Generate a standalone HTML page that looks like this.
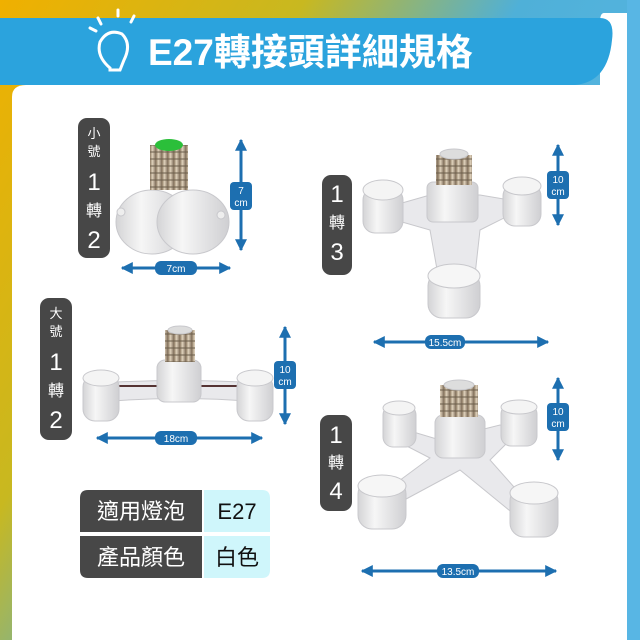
<!DOCTYPE html>
<html><head><meta charset="utf-8"><style>
html,body{margin:0;padding:0;width:640px;height:640px;overflow:hidden}
text{font-family:"Liberation Sans","Noto Sans CJK TC",sans-serif}
</style></head><body>
<svg width="640" height="640" viewBox="0 0 640 640" xmlns="http://www.w3.org/2000/svg">
<defs>
<linearGradient id="bg" x1="0" y1="0" x2="1" y2="0.6">
<stop offset="0" stop-color="#f0b000"/><stop offset="0.35" stop-color="#c8b820"/><stop offset="0.6" stop-color="#4fb0d8"/><stop offset="1" stop-color="#5ab8e6"/></linearGradient>
<linearGradient id="cyl" x1="0" y1="0" x2="1" y2="0">
<stop offset="0" stop-color="#d4d4d6"/><stop offset="0.35" stop-color="#f6f6f6"/><stop offset="1" stop-color="#cfcfd2"/></linearGradient>
<linearGradient id="scr" x1="0" y1="0" x2="1" y2="0">
<stop offset="0" stop-color="#8c7a62"/><stop offset="0.4" stop-color="#e0d2bc"/><stop offset="1" stop-color="#7d6c58"/></linearGradient>
<pattern id="thr" width="6" height="7" patternUnits="userSpaceOnUse"><rect width="6" height="7" fill="url(#scr)"/><rect y="4" width="6" height="2" fill="#6b5d4c" opacity=".5"/></pattern>
<marker id="ah" viewBox="0 0 10 10" refX="9" refY="5" markerWidth="4" markerHeight="4" orient="auto-start-reverse"><path d="M0,0 L10,5 L0,10z" fill="#1d6fb0"/></marker>
</defs>
<rect width="640" height="640" fill="url(#bg)"/>
<rect x="627" y="0" width="13" height="640" fill="#58b6e4"/>
<path d="M12,97 Q12,85 26,85 H627 V640 H12z" fill="#fff"/>
<path d="M604,13 H627 V90 H600 V22 Q600,13 604,13z" fill="#fff"/>
<path d="M0,18 H600 Q615,18 612,40 Q608,82 575,85 H0z" fill="#2ba3dd"/>
<g stroke="#fff" stroke-width="3" fill="none" stroke-linecap="round">
<path d="M110,68 Q96,56 100,42 Q108,28 122,34 Q132,44 124,60 L120,70 H110z"/>
<path d="M98,18 L101,24 M118,10 V16 M134,16 L131,22 M90,28 L96,31"/>
</g>
<text x="148" y="65" fill="#fff" font-size="37" font-weight="bold">E27轉接頭詳細規格</text>

<g fill="#474747">
<rect x="78" y="118" width="32" height="140" rx="9"/>
<rect x="322" y="175" width="30" height="100" rx="9"/>
<rect x="40" y="298" width="32" height="142" rx="9"/>
<rect x="320" y="415" width="32" height="96" rx="9"/>
</g>
<g fill="#fff" text-anchor="middle">
<text x="94" y="138" font-size="13">小</text><text x="94" y="156" font-size="13">號</text>
<text x="94" y="190" font-size="24">1</text><text x="94" y="216" font-size="16">轉</text><text x="94" y="248" font-size="24">2</text>
<text x="337" y="202" font-size="24">1</text><text x="337" y="228" font-size="16">轉</text><text x="337" y="260" font-size="24">3</text>
<text x="56" y="318" font-size="13">大</text><text x="56" y="336" font-size="13">號</text>
<text x="56" y="370" font-size="24">1</text><text x="56" y="396" font-size="16">轉</text><text x="56" y="428" font-size="24">2</text>
<text x="336" y="443" font-size="24">1</text><text x="336" y="468" font-size="16">轉</text><text x="336" y="499" font-size="24">4</text>
</g>

<g stroke="#c8c8cc" stroke-width="1">
<ellipse cx="152" cy="222" rx="36" ry="32" fill="url(#cyl)"/>
<ellipse cx="193" cy="222" rx="36" ry="32" fill="url(#cyl)"/>
<rect x="150" y="145" width="38" height="45" fill="url(#thr)" stroke="none"/>
<ellipse cx="169" cy="145" rx="14" ry="6" fill="#2bbf3a" stroke="none"/>
<circle cx="121" cy="212" r="4" fill="#eee"/><circle cx="221" cy="215" r="4" fill="#eee"/>
</g>
<g stroke="#c8c8cc" stroke-width="1">
<path d="M395,205 L430,195 L480,195 L510,200 L510,215 L480,230 L475,275 L438,275 L430,230 L395,220z" fill="#e9e9ec"/>
<rect x="363" y="188" width="40" height="45" rx="12" fill="url(#cyl)"/><ellipse cx="383" cy="190" rx="20" ry="10" fill="#f4f4f4"/>
<rect x="503" y="184" width="38" height="42" rx="12" fill="url(#cyl)"/><ellipse cx="522" cy="186" rx="19" ry="9" fill="#f4f4f4"/>
<rect x="428" y="272" width="52" height="46" rx="14" fill="url(#cyl)"/><ellipse cx="454" cy="276" rx="26" ry="12" fill="#f6f6f6"/>
<rect x="427" y="182" width="51" height="40" rx="6" fill="url(#cyl)"/>
<rect x="436" y="155" width="36" height="30" fill="url(#thr)" stroke="none"/>
<ellipse cx="454" cy="154" rx="14" ry="5" fill="#ddd"/>
</g>
<g stroke="#c8c8cc" stroke-width="1">
<path d="M100,383 Q180,378 258,383 L258,402 Q180,395 100,402z" fill="#e9e9ec"/>
<line x1="118" y1="386" x2="240" y2="386" stroke="#553333" stroke-width="2"/>
<rect x="83" y="375" width="36" height="46" rx="12" fill="url(#cyl)"/><ellipse cx="101" cy="378" rx="18" ry="8" fill="#f4f4f4"/>
<rect x="237" y="375" width="36" height="46" rx="12" fill="url(#cyl)"/><ellipse cx="255" cy="378" rx="18" ry="8" fill="#f4f4f4"/>
<rect x="157" y="360" width="44" height="42" rx="8" fill="url(#cyl)"/>
<rect x="165" y="330" width="30" height="32" fill="url(#thr)" stroke="none"/>
<ellipse cx="180" cy="330" rx="12" ry="4" fill="#ddd"/>
</g>
<g stroke="#c8c8cc" stroke-width="1">
<path d="M400,428 L440,440 L500,425 L520,430 L490,460 L530,505 L515,515 L460,470 L395,505 L380,495 L430,458 L395,440z" fill="#e9e9ec"/>
<rect x="383" y="405" width="33" height="42" rx="10" fill="url(#cyl)"/><ellipse cx="399" cy="408" rx="16" ry="7" fill="#f4f4f4"/>
<rect x="501" y="404" width="36" height="42" rx="10" fill="url(#cyl)"/><ellipse cx="519" cy="407" rx="18" ry="7" fill="#f4f4f4"/>
<rect x="358" y="480" width="48" height="49" rx="14" fill="url(#cyl)"/><ellipse cx="382" cy="486" rx="24" ry="11" fill="#f6f6f6"/>
<rect x="510" y="487" width="48" height="50" rx="14" fill="url(#cyl)"/><ellipse cx="534" cy="493" rx="24" ry="11" fill="#f6f6f6"/>
<rect x="435" y="415" width="50" height="43" rx="8" fill="url(#cyl)"/>
<rect x="440" y="385" width="38" height="32" fill="url(#thr)" stroke="none"/>
<ellipse cx="459" cy="385" rx="15" ry="5" fill="#ddd"/>
</g>

<g stroke="#1d6fb0" stroke-width="3" marker-start="url(#ah)" marker-end="url(#ah)">
<line x1="241" y1="140" x2="241" y2="250"/>
<line x1="122" y1="268" x2="230" y2="268"/>
<line x1="558" y1="145" x2="558" y2="225"/>
<line x1="374" y1="342" x2="548" y2="342"/>
<line x1="285" y1="327" x2="285" y2="424"/>
<line x1="97" y1="438" x2="262" y2="438"/>
<line x1="558" y1="378" x2="558" y2="460"/>
<line x1="362" y1="571" x2="556" y2="571"/>
</g>
<g fill="#1d6fb0">
<rect x="230" y="182" width="22" height="28" rx="4"/>
<rect x="155" y="261" width="42" height="14" rx="6"/>
<rect x="547" y="171" width="22" height="28" rx="4"/>
<rect x="425" y="335" width="40" height="14" rx="6"/>
<rect x="274" y="361" width="22" height="28" rx="4"/>
<rect x="155" y="431" width="42" height="14" rx="6"/>
<rect x="547" y="403" width="22" height="28" rx="4"/>
<rect x="437" y="564" width="42" height="14" rx="6"/>
</g>
<g fill="#fff" text-anchor="middle" font-size="10">
<text x="241" y="194">7</text><text x="241" y="206">cm</text>
<text x="176" y="272">7cm</text>
<text x="558" y="183">10</text><text x="558" y="195">cm</text>
<text x="445" y="346">15.5cm</text>
<text x="285" y="373">10</text><text x="285" y="385">cm</text>
<text x="176" y="442">18cm</text>
<text x="558" y="415">10</text><text x="558" y="427">cm</text>
<text x="458" y="575">13.5cm</text>
</g>

<path d="M88,490 H202 V532 H80 V498 Q80,490 88,490z" fill="#474747"/>
<path d="M80,536 H202 V578 H88 Q80,578 80,570z" fill="#474747"/>
<path d="M204,490 H262 Q270,490 270,498 V532 H204z" fill="#cff6fb"/>
<path d="M204,536 H270 V570 Q270,578 262,578 H204z" fill="#cff6fb"/>
<g font-size="22" text-anchor="middle">
<text x="141" y="519" fill="#fff">適用燈泡</text>
<text x="141" y="565" fill="#fff">產品顏色</text>
<text x="237" y="519" fill="#111">E27</text>
<text x="237" y="565" fill="#111">白色</text>
</g>
</svg>
</body></html>
